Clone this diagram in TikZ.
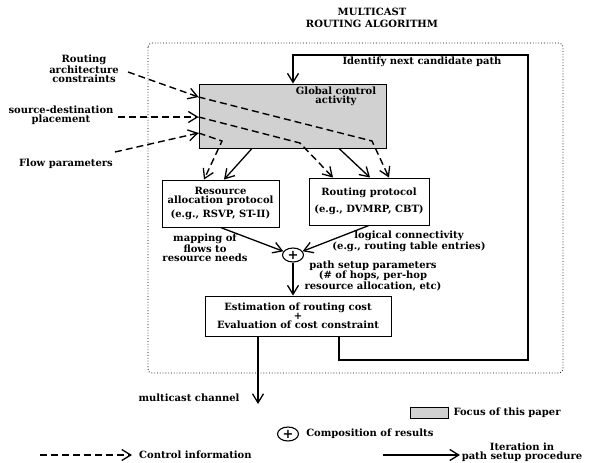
\documentclass[tikz,border=0pt]{standalone}
\usepackage{fontspec}
\setmainfont{DejaVu Serif}
\usetikzlibrary{arrows.meta, positioning, shapes.geometric, calc}

\newcommand\figfont{\fontsize{10}{8.8}\selectfont\bfseries}

\begin{document}
\begin{tikzpicture}[
    x=1pt, y=-1pt,
    every node/.style={font=\figfont, align=center, inner sep=1pt},
    block/.style={draw, line width=0.9pt, inner sep=1pt},
    focus/.style={block, fill=black!18},
    plusnode/.style={ellipse, draw, line width=1.1pt, minimum width=21pt, minimum height=14pt, inner sep=0pt,
        font=\fontsize{13}{13}\selectfont\bfseries},
    barb/.style={-{Straight Barb[length=9pt, width=11pt, line width=1.3pt]}},
    ctrl/.style={barb, line width=1.4pt, dash pattern=on 7pt off 4pt},
    flow/.style={barb, line width=1.3pt},
    iter/.style={barb, line width=1.7pt}
]
    \useasboundingbox (0,0) rectangle (595,463);

    % title and algorithm frame
    \node (title) at (372,18) {MULTICAST\\[3pt]ROUTING ALGORITHM};
    \draw[dotted, line width=0.8pt, rounded corners=4pt] (148,43) rectangle (563,373);

    % blocks
    \node[focus, minimum width=187pt, minimum height=64pt] (glob) at (292.5,116) {};
    \node (globtxt) at (336,96) {Global control\\activity};
    \node[block, minimum width=117pt, minimum height=47pt] (res) at (220.5,203.5)
        {Resource\\allocation protocol\\[3pt](e.g., RSVP, ST-II)};
    \node[block, minimum width=120pt, minimum height=47pt] (rout) at (369,201.5)
        {Routing protocol\\[6pt](e.g., DVMRP, CBT)};
    \node[plusnode] (plus) at (293,255) {+};
    \node[block, minimum width=186pt, minimum height=40pt] (est) at (298,316)
        {Estimation of routing cost\\+\\Evaluation of cost constraint};

    % inputs
    \node (arch) at (84,69) {Routing\\architecture\\constraints};
    \node (place) at (61,115) {source-destination\\placement};
    \node (flowp) at (66,164) {Flow parameters};
    \coordinate (a1) at (128,72);
    \coordinate (a2) at (118,117);
    \coordinate (a3) at (115,152);

    % control information
    \draw[ctrl] (a1) -- (glob.west |- 0,97);
    \draw[ctrl] (glob.west |- 0,97) -- (372,141) -- (rout.north -| 389,0);
    \draw[ctrl] (a2) -- (glob.west |- 0,117);
    \draw[ctrl] (glob.west |- 0,117) -- (300,143) -- (rout.north -| 333,0);
    \draw[ctrl] (a3) -- (glob.west |- 0,133);
    \draw[ctrl] (glob.west |- 0,133) -- (222,141) -- (res.north -| 204,0);

    % results
    \draw[flow] (glob.south -| 252,0) -- (res.north -| 224,0);
    \draw[flow] (glob.south -| 339,0) -- (rout.north -| 370,0);
    \draw[flow] (res.south) -- (plus);
    \draw[flow] (rout.south) -- (plus);
    \draw[flow] (plus.south) -- (est.north -| plus.south);
    \node (maplbl) at (205,248) {mapping of\\flows to\\resource needs};
    \node (loglbl) at (409,241) {logical connectivity\\(e.g., routing table entries)};
    \node (pathlbl) at (373,276) {path setup parameters\\(\# of hops, per-hop\\resource allocation, etc)};

    % output
    \coordinate (mcend) at (258,404);
    \draw[flow, line width=1.5pt] (est.south -| mcend) -- (mcend);
    \node (mclbl) at (189,398) {multicast channel};

    % iteration loop
    \coordinate (lpbr) at (528,360);
    \coordinate (lptl) at (293,55);
    \draw[iter] (est.south -| 339,0) |- (lpbr) |- (lptl) -- (glob.north -| lptl);
    \node (looplbl) at (422,62) {Identify next candidate path};

    % legend
    \node[focus, line width=0.6pt, minimum width=38pt, minimum height=11pt] (keyfocus) at (429,413) {};
    \node[right=4pt of keyfocus] (keyfocustxt) {Focus of this paper};
    \node[plusnode] (keyplus) at (288,434) {+};
    \node[right=6pt of keyplus] (keyplustxt) {Composition of results};
    \coordinate (keyctlA) at (40,455);
    \coordinate (keyctlB) at (132,455);
    \draw[ctrl] (keyctlA) -- (keyctlB);
    \node[right=6pt of keyctlB] (keyctltxt) {Control information};
    \coordinate (keyitA) at (383,455);
    \coordinate (keyitB) at (460,455);
    \draw[flow] (keyitA) -- (keyitB);
    \node (keyittxt) at (522,452) {Iteration in\\path setup procedure};
\end{tikzpicture}
\end{document}
